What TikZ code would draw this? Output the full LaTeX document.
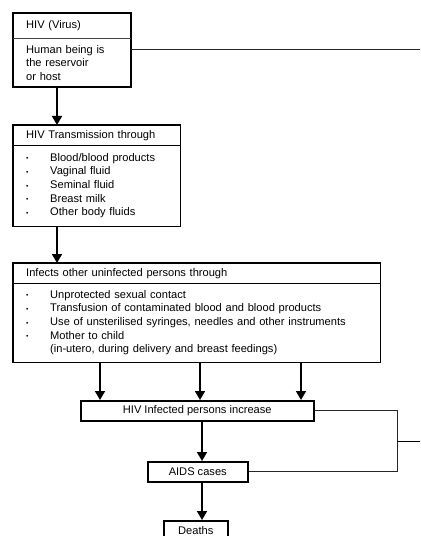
\documentclass[tikz,border=0pt]{standalone}
\usepackage{fontspec}
\setmainfont{Liberation Sans}
\usetikzlibrary{arrows.meta,calc}
\newcommand{\itm}[1]{\makebox[24bp][l]{\raisebox{0.5bp}{\scalebox{0.6}{•}}}#1}
\begin{document}
\begin{tikzpicture}[x=1bp,y=-1bp,
  every node/.style={font=\fontsize{11.1bp}{13.6bp}\selectfont, inner sep=0pt},
  cbox/.style={anchor=north west, minimum width=#1, align=center, draw, line width=1.5bp, minimum height=20bp},
  outline/.style={line width=1.5bp},
  outlinethick/.style={line width=1.9bp},
  divline/.style={line width=0.8bp, draw=black!75},
  arr/.style={line width=1.7bp, -{Triangle[width=10bp,length=9bp]}},
  conn/.style={line width=0.9bp, draw=black!85}]
\useasboundingbox (0,0) rectangle (420,536);
\clip (0,0) rectangle (420,536);
\coordinate (edge) at (430,0);
\coordinate (ax) at (202,0);
\coordinate (rc) at (397,0);
% Box 1
\node[anchor=north west, minimum width=118bp, minimum height=25bp, text width=92bp, align=left] (t1) at (13,13) {HIV (Virus)};
\node[anchor=north west, minimum width=118bp, minimum height=49bp, text width=92bp, align=left] (b1) at (13,38) {Human being is\\the reservoir\\or host};
\draw[outlinethick] (t1.north west) rectangle (b1.south east);
\draw[divline] (t1.south west) -- (t1.south east);
% Box 2
\node[anchor=north west, minimum width=167bp, minimum height=20bp, text width=141bp, align=left] (t2) at (13,125) {HIV Transmission through};
\node[anchor=north west, minimum width=167bp, minimum height=81bp, text width=141bp, align=left] (b2) at (13,145) {\itm{Blood/blood products}\\\itm{Vaginal fluid}\\\itm{Seminal fluid}\\\itm{Breast milk}\\\itm{Other body fluids}};
\draw[outline] (t2.north west) rectangle (b2.south east);
\draw[outline] (t2.south west) -- (t2.south east);
% Box 3
\node[anchor=north west, minimum width=367bp, minimum height=20bp, text width=341bp, align=left] (t3) at (13,263) {Infects other uninfected persons through};
\node[anchor=north west, minimum width=367bp, minimum height=79bp, text width=341bp, align=left] (b3) at (13,283) {\itm{Unprotected sexual contact}\\\itm{Transfusion of contaminated blood and blood products}\\\itm{Use of unsterilised syringes, needles and other instruments}\\\itm{Mother to child}\\\hspace*{24bp}(in-utero, during delivery and breast feedings)};
\draw[outline] (t3.north west) rectangle (b3.south east);
\draw[outline] (t3.south west) -- (t3.south east);
% Lower boxes
\node[cbox=233bp] (b4) at (80,400) {HIV Infected persons increase};
\node[cbox=100bp] (aids) at (147,461) {AIDS cases};
\node[cbox=64bp, minimum height=19bp, text depth=0pt, text height=8bp] (deaths) at (163,520) {Deaths};
% Arrows
\draw[arr] ([xshift=44bp]b1.south west) -- ([xshift=44bp]t2.north west);
\draw[arr] ([xshift=44bp]b2.south west) -- ([xshift=44bp]t3.north west);
\draw[arr] ([xshift=87bp]b3.south west) -- ([xshift=87bp]b3.south west |- b4.north);
\draw[arr] ([xshift=187bp]b3.south west) -- ([xshift=187bp]b3.south west |- b4.north);
\draw[arr] ([xshift=288bp]b3.south west) -- ([xshift=288bp]b3.south west |- b4.north);
\draw[arr] (b4.south -| ax) -- (aids.north -| ax);
\draw[arr] (aids.south -| ax) -- (deaths.north -| ax);
% Connectors
\draw[conn] ([yshift=-11bp]b1.north east) -- ([yshift=-11bp]b1.north east -| edge);
\draw[conn] (b4.east) -- (b4.east -| rc) -- (aids.east -| rc) -- (aids.east);
\draw[line width=1.3bp] ($(b4.east -| rc)!0.5!(aids.east -| rc)$) -- ($(b4.east -| edge)!0.5!(aids.east -| edge)$);
\end{tikzpicture}
\end{document}
